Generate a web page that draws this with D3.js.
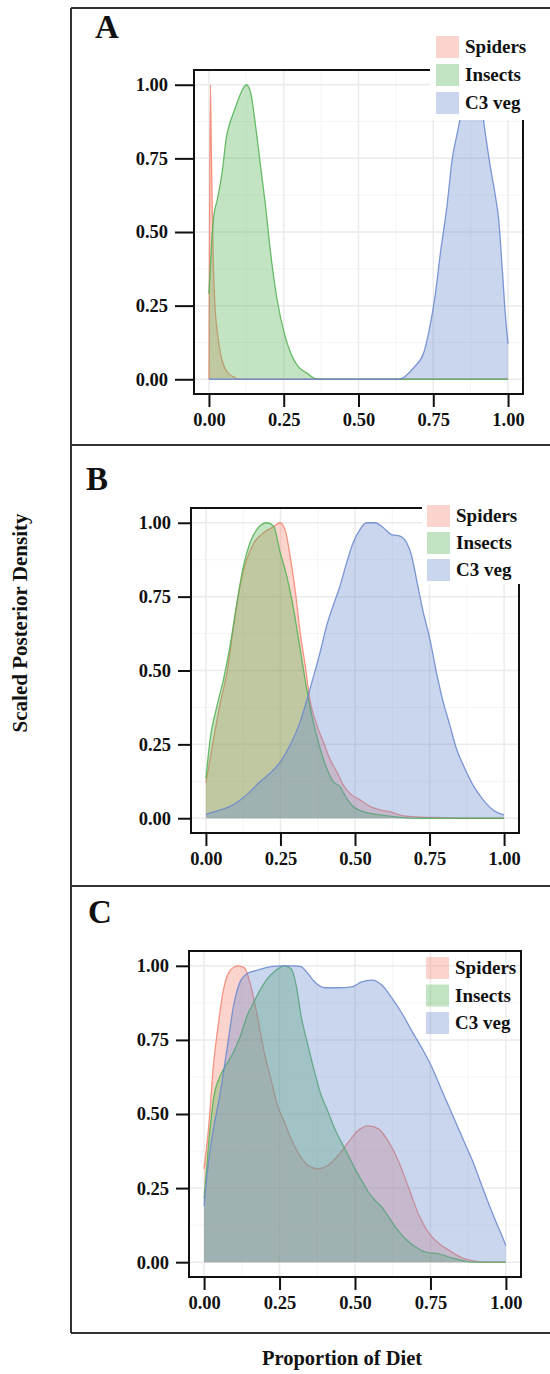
<!DOCTYPE html>
<html>
<head>
<meta charset="utf-8">
<script src="https://cdn.jsdelivr.net/npm/d3@7"></script>
<style>
  body { margin: 0; background: #fff; }
  text { font-family: "Liberation Serif", "Times New Roman", serif; font-weight: bold; }
</style>
</head>
<body>
<div id="plot"></div>
<script>
// values (x = proportion of diet, y = scaled density)
const seriesNames = ["Spiders", "Insects", "C3 veg"];
const panelLabels = ["A", "B", "C"];
const xTicks = [0, 0.25, 0.5, 0.75, 1];
const yTicks = [0, 0.25, 0.5, 0.75, 1];

const aSpiders = [[0,0],[0.002,0.5],[0.005,1.0],[0.008,0.78],[0.011,0.58],[0.015,0.38],[0.019,0.27],[0.028,0.16],[0.04,0.08],[0.05,0.045],[0.065,0.02],[0.083,0.008],[0.1,0],[1,0]];
const aInsects = [[0,0.29],[0.008,0.45],[0.017,0.56],[0.028,0.61],[0.045,0.71],[0.058,0.82],[0.067,0.86],[0.084,0.91],[0.106,0.97],[0.125,1.0],[0.139,0.975],[0.156,0.86],[0.173,0.72],[0.189,0.59],[0.206,0.43],[0.228,0.27],[0.251,0.16],[0.273,0.09],[0.295,0.047],[0.329,0.02],[0.356,0.002],[0.4,0],[1,0]];
const aC3veg = [[0,0],[0.635,0],[0.685,0.04],[0.718,0.09],[0.735,0.16],[0.757,0.29],[0.774,0.43],[0.796,0.59],[0.813,0.745],[0.83,0.835],[0.85,0.93],[0.87,0.99],[0.885,1.0],[0.905,0.97],[0.924,0.835],[0.941,0.72],[0.958,0.62],[0.969,0.54],[0.98,0.385],[0.991,0.22],[1,0.12]];

const bSpiders = [[0,0.12],[0.026,0.27],[0.048,0.39],[0.07,0.49],[0.093,0.65],[0.115,0.79],[0.137,0.876],[0.16,0.93],[0.193,0.966],[0.227,0.987],[0.249,1.0],[0.266,0.975],[0.282,0.89],[0.299,0.775],[0.316,0.63],[0.333,0.517],[0.349,0.4],[0.372,0.315],[0.394,0.258],[0.416,0.2],[0.439,0.157],[0.461,0.112],[0.483,0.084],[0.517,0.062],[0.55,0.04],[0.584,0.028],[0.617,0.022],[0.662,0.008],[0.718,0.004],[0.796,0.002],[0.85,0],[1,0]];
const bInsects = [[0,0.135],[0.0145,0.27],[0.037,0.38],[0.059,0.47],[0.081,0.584],[0.104,0.73],[0.126,0.854],[0.148,0.933],[0.171,0.978],[0.204,1.0],[0.227,0.989],[0.249,0.9],[0.271,0.82],[0.294,0.708],[0.316,0.573],[0.338,0.438],[0.36,0.326],[0.383,0.236],[0.405,0.169],[0.427,0.124],[0.45,0.107],[0.472,0.067],[0.494,0.04],[0.528,0.022],[0.584,0.011],[0.65,0.003],[0.72,0],[1,0]];
const bC3veg = [[0,0.013],[0.048,0.028],[0.081,0.04],[0.115,0.062],[0.148,0.09],[0.182,0.124],[0.215,0.152],[0.249,0.19],[0.282,0.247],[0.316,0.326],[0.349,0.438],[0.383,0.562],[0.405,0.652],[0.427,0.72],[0.45,0.787],[0.472,0.865],[0.494,0.933],[0.517,0.978],[0.539,1.0],[0.567,1.0],[0.595,0.983],[0.623,0.96],[0.651,0.955],[0.673,0.933],[0.69,0.888],[0.706,0.81],[0.729,0.697],[0.751,0.607],[0.773,0.494],[0.796,0.393],[0.818,0.315],[0.84,0.236],[0.863,0.18],[0.896,0.112],[0.93,0.062],[0.963,0.028],[1,0.011]];

const cSpiders = [[0,0.315],[0.0145,0.45],[0.031,0.664],[0.048,0.81],[0.065,0.923],[0.087,0.985],[0.112,1.0],[0.134,0.993],[0.154,0.935],[0.176,0.833],[0.199,0.71],[0.221,0.62],[0.243,0.53],[0.266,0.473],[0.288,0.417],[0.31,0.372],[0.344,0.327],[0.377,0.315],[0.411,0.327],[0.444,0.36],[0.478,0.405],[0.511,0.445],[0.545,0.46],[0.578,0.45],[0.612,0.405],[0.645,0.338],[0.679,0.248],[0.712,0.158],[0.746,0.096],[0.779,0.062],[0.813,0.039],[0.857,0.0135],[0.902,0.003],[0.95,0],[1,0]];
const cInsects = [[0,0.214],[0.0145,0.394],[0.031,0.55],[0.054,0.63],[0.076,0.67],[0.098,0.71],[0.121,0.766],[0.143,0.833],[0.165,0.878],[0.188,0.923],[0.21,0.957],[0.238,0.985],[0.266,1.0],[0.288,0.99],[0.305,0.935],[0.321,0.833],[0.344,0.732],[0.366,0.642],[0.388,0.563],[0.411,0.507],[0.433,0.45],[0.455,0.405],[0.478,0.36],[0.5,0.315],[0.522,0.276],[0.545,0.236],[0.567,0.208],[0.589,0.186],[0.612,0.152],[0.634,0.118],[0.667,0.079],[0.701,0.051],[0.734,0.034],[0.779,0.028],[0.824,0.0135],[0.868,0.003],[0.9,0],[1,0]];
const cC3veg = [[0,0.19],[0.0145,0.338],[0.031,0.45],[0.054,0.574],[0.076,0.72],[0.098,0.867],[0.121,0.95],[0.143,0.974],[0.176,0.985],[0.221,0.997],[0.254,1.0],[0.299,1.0],[0.321,0.997],[0.344,0.974],[0.366,0.946],[0.4,0.926],[0.444,0.926],[0.489,0.929],[0.522,0.946],[0.556,0.952],[0.589,0.935],[0.623,0.89],[0.656,0.839],[0.69,0.777],[0.723,0.72],[0.757,0.653],[0.79,0.574],[0.824,0.495],[0.857,0.417],[0.891,0.338],[0.924,0.248],[0.958,0.158],[0.991,0.079],[1,0.056]];

const panelData = [
  [aSpiders, aInsects, aC3veg],
  [bSpiders, bInsects, bC3veg],
  [cSpiders, cInsects, cC3veg]
];

const colors = ["#f48470", "#51b251", "#6887ce"];

const panels = [
  {frameTop: 8, frameBottom: 445, box: {l: 194, t: 70, r: 523, b: 394}, tickLen: 19,
   label: {x: 95, y: 38}, legend: {x: 436, y: 36, step: 28, bg: [430, 33, 120, 87]}},
  {frameTop: 445, frameBottom: 886, box: {l: 191, t: 508, r: 519, b: 833}, tickLen: 13,
   label: {x: 86, y: 490}, legend: {x: 427, y: 505, step: 27, bg: [422, 502, 120, 82]}},
  {frameTop: 886, frameBottom: 1333, box: {l: 189, t: 951, r: 521, b: 1277}, tickLen: 13,
   label: {x: 88, y: 923}, legend: {x: 426, y: 957, step: 27.5, bg: null}}
];

const width = 550, height = 1374;

const svg = d3.select("#plot")
  .append("svg")
  .attr("width", width)
  .attr("height", height);

// outer frame
const frameX = 71;
svg.append("line")
  .attr("x1", frameX).attr("x2", frameX)
  .attr("y1", panels[0].frameTop).attr("y2", panels[2].frameBottom)
  .attr("stroke", "#333").attr("stroke-width", 2);
[panels[0].frameTop, panels[0].frameBottom, panels[1].frameBottom, panels[2].frameBottom].forEach(y => {
  svg.append("line")
    .attr("x1", frameX).attr("x2", width)
    .attr("y1", y).attr("y2", y)
    .attr("stroke", "#333").attr("stroke-width", 2);
});

const minorTicks = d3.range(0.125, 1, 0.25);

panels.forEach((p, i) => {
  const g = svg.append("g");
  const box = p.box;

  const x = d3.scaleLinear().domain([-0.05, 1.05]).range([box.l, box.r]);
  const y = d3.scaleLinear().domain([-0.05, 1.05]).range([box.b, box.t]);

  // grid
  const grid = g.append("g");
  minorTicks.forEach(v => {
    grid.append("line").attr("x1", x(v)).attr("x2", x(v)).attr("y1", box.t).attr("y2", box.b)
      .attr("stroke", "#f4f4f4").attr("stroke-width", 1);
    grid.append("line").attr("x1", box.l).attr("x2", box.r).attr("y1", y(v)).attr("y2", y(v))
      .attr("stroke", "#f4f4f4").attr("stroke-width", 1);
  });
  xTicks.forEach(v => {
    grid.append("line").attr("x1", x(v)).attr("x2", x(v)).attr("y1", box.t).attr("y2", box.b)
      .attr("stroke", "#ebebeb").attr("stroke-width", 1.5);
  });
  yTicks.forEach(v => {
    grid.append("line").attr("x1", box.l).attr("x2", box.r).attr("y1", y(v)).attr("y2", y(v))
      .attr("stroke", "#ebebeb").attr("stroke-width", 1.5);
  });

  // densities
  const area = d3.area()
    .x(d => x(d[0]))
    .y0(y(0))
    .y1(d => y(d[1]))
    .curve(d3.curveMonotoneX);
  const line = d3.line()
    .x(d => x(d[0]))
    .y(d => y(d[1]))
    .curve(d3.curveMonotoneX);

  panelData[i].forEach((s, k) => {
    g.append("path")
      .attr("d", area(s))
      .attr("fill", colors[k])
      .attr("fill-opacity", 0.35)
      .attr("stroke", "none");
    g.append("path")
      .attr("d", line(s))
      .attr("fill", "none")
      .attr("stroke", colors[k])
      .attr("stroke-opacity", 0.85)
      .attr("stroke-width", 1.3);
  });

  // panel border
  g.append("rect")
    .attr("x", box.l).attr("y", box.t)
    .attr("width", box.r - box.l).attr("height", box.b - box.t)
    .attr("fill", "none").attr("stroke", "#111").attr("stroke-width", 2);

  // axes
  const yAxis = g.append("g")
    .attr("transform", `translate(${box.l},0)`)
    .call(d3.axisLeft(y).tickValues(yTicks).tickFormat(d3.format(".2f"))
      .tickSize(p.tickLen).tickPadding(7));
  const xAxis = g.append("g")
    .attr("transform", `translate(0,${box.b})`)
    .call(d3.axisBottom(x).tickValues(xTicks).tickFormat(d3.format(".2f"))
      .tickSize(13).tickPadding(6));
  [yAxis, xAxis].forEach(ax => {
    ax.select(".domain").remove();
    ax.selectAll("line").attr("stroke", "#111").attr("stroke-width", 2);
    ax.selectAll("text")
      .attr("fill", "#111")
      .style("font-size", "18.5px")
      .style("font-family", "'Liberation Serif', serif")
      .style("font-weight", "bold");
  });

  // legend
  const lg = g.append("g");
  if (p.legend.bg) {
    lg.append("rect")
      .attr("x", p.legend.bg[0]).attr("y", p.legend.bg[1])
      .attr("width", p.legend.bg[2]).attr("height", p.legend.bg[3])
      .attr("fill", "#fff");
  }
  seriesNames.forEach((name, k) => {
    const row = lg.append("g")
      .attr("transform", `translate(${p.legend.x},${p.legend.y + k * p.legend.step})`);
    row.append("rect")
      .attr("width", 23).attr("height", 22)
      .attr("fill", colors[k]).attr("fill-opacity", 0.35);
    row.append("text")
      .attr("x", 29).attr("y", 17)
      .attr("fill", "#111")
      .style("font-size", "19px")
      .text(name);
  });

  // panel letter
  g.append("text")
    .attr("x", p.label.x).attr("y", p.label.y)
    .attr("fill", "#111")
    .style("font-size", "33px")
    .text(panelLabels[i]);
});

// axis titles
svg.append("text")
  .attr("transform", "rotate(-90)")
  .attr("x", -623)
  .attr("y", 27)
  .attr("text-anchor", "middle")
  .attr("fill", "#111")
  .style("font-size", "21px")
  .text("Scaled Posterior Density");

svg.append("text")
  .attr("x", 342)
  .attr("y", 1365)
  .attr("text-anchor", "middle")
  .attr("fill", "#111")
  .style("font-size", "20.5px")
  .text("Proportion of Diet");
</script>
</body>
</html>
